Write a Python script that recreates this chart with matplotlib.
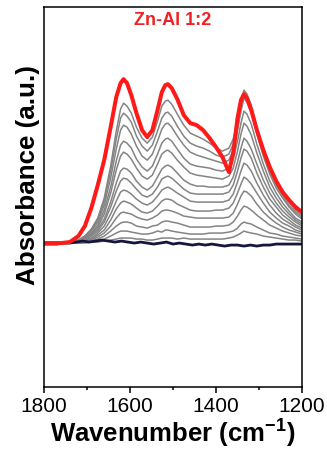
"""
In-situ IR spectra of the Zn-Al 1:2 sample, 1800-1200 cm-1 region.
"""

import numpy as np
import matplotlib
matplotlib.use("Agg")
import matplotlib.pyplot as plt

plt.rcParams["font.family"] = ["Liberation Sans", "DejaVu Sans"]
plt.rcParams["mathtext.fontset"] = "custom"
plt.rcParams["mathtext.rm"] = "Liberation Sans"
plt.rcParams["mathtext.bf"] = "Liberation Sans:bold"

# common wavenumber grid (cm-1)
wavenumber = [1800, 1760, 1740, 1720, 1705, 1690, 1675, 1660, 1645, 1632,
              1622, 1615, 1607, 1597, 1585, 1572, 1560, 1548, 1536, 1526,
              1518, 1512, 1503, 1490, 1475, 1460, 1445, 1430, 1415, 1400,
              1385, 1370, 1360, 1350, 1342, 1335, 1328, 1318, 1305, 1290,
              1275, 1260, 1245, 1230, 1215, 1200]

# final spectrum (red)
final_spectrum = [0.00, 0.00, 0.01, 0.07, 0.17, 0.35, 0.58, 0.83, 1.16, 1.46,
                  1.60, 1.64, 1.60, 1.48, 1.30, 1.13, 1.06, 1.13, 1.33, 1.51,
                  1.58, 1.59, 1.55, 1.44, 1.28, 1.20, 1.18, 1.13, 1.05, 0.96,
                  0.86, 0.71, 0.90, 1.25, 1.43, 1.49, 1.45, 1.33, 1.13, 0.93,
                  0.76, 0.62, 0.51, 0.43, 0.36, 0.31]

# intermediate spectra (grey), highest first
grey_spectra = [
    [0, 0, 0.01, 0.03, 0.07, 0.14, 0.25, 0.45, 0.77, 1.12, 1.34, 1.40, 1.37, 1.30, 1.16, 1.05,
     1.00, 1.06, 1.22, 1.37, 1.42, 1.43, 1.39, 1.29, 1.18, 1.10, 1.07, 1.04, 1.00, 0.95,
     0.92, 0.95, 1.04, 1.23, 1.41, 1.53, 1.49, 1.38, 1.16, 0.93, 0.74, 0.61, 0.49, 0.41, 0.33, 0.28],
    [0, 0, 0.01, 0.03, 0.07, 0.13, 0.23, 0.42, 0.72, 1.04, 1.25, 1.30, 1.27, 1.21, 1.07, 0.97,
     0.92, 0.98, 1.12, 1.25, 1.30, 1.31, 1.27, 1.17, 1.07, 1.00, 0.97, 0.95, 0.92, 0.88,
     0.86, 0.89, 0.99, 1.18, 1.37, 1.50, 1.46, 1.35, 1.13, 0.90, 0.72, 0.58, 0.47, 0.38, 0.31, 0.26],
    [0, 0, 0.01, 0.02, 0.06, 0.12, 0.21, 0.38, 0.65, 0.94, 1.13, 1.18, 1.16, 1.09, 0.97, 0.87,
     0.83, 0.89, 1.02, 1.14, 1.19, 1.20, 1.16, 1.07, 0.98, 0.91, 0.88, 0.86, 0.84, 0.82,
     0.80, 0.83, 0.93, 1.13, 1.32, 1.45, 1.41, 1.30, 1.09, 0.87, 0.69, 0.55, 0.45, 0.36, 0.29, 0.24],
    [0, 0, 0.01, 0.02, 0.05, 0.10, 0.18, 0.33, 0.56, 0.82, 0.98, 1.02, 1.00, 0.95, 0.84, 0.76,
     0.72, 0.77, 0.89, 1.00, 1.04, 1.05, 1.02, 0.94, 0.85, 0.79, 0.77, 0.76, 0.75, 0.73,
     0.72, 0.75, 0.84, 1.02, 1.20, 1.32, 1.29, 1.19, 0.99, 0.79, 0.62, 0.50, 0.40, 0.32, 0.25, 0.21],
    [0, 0, 0.00, 0.02, 0.05, 0.09, 0.16, 0.29, 0.50, 0.73, 0.87, 0.91, 0.89, 0.84, 0.75, 0.67,
     0.64, 0.68, 0.79, 0.89, 0.92, 0.93, 0.90, 0.83, 0.76, 0.70, 0.68, 0.67, 0.66, 0.65,
     0.64, 0.67, 0.75, 0.92, 1.09, 1.20, 1.17, 1.08, 0.90, 0.72, 0.56, 0.45, 0.36, 0.29, 0.23, 0.19],
    [0, 0, 0.00, 0.02, 0.04, 0.08, 0.14, 0.24, 0.41, 0.60, 0.72, 0.75, 0.74, 0.70, 0.62, 0.56,
     0.53, 0.57, 0.66, 0.74, 0.77, 0.78, 0.76, 0.70, 0.63, 0.59, 0.57, 0.57, 0.56, 0.56,
     0.56, 0.58, 0.66, 0.81, 0.95, 1.05, 1.02, 0.94, 0.79, 0.63, 0.50, 0.40, 0.32, 0.26, 0.21, 0.17],
    [0, 0, 0.00, 0.01, 0.03, 0.07, 0.12, 0.21, 0.36, 0.52, 0.62, 0.65, 0.64, 0.60, 0.54, 0.48,
     0.46, 0.49, 0.56, 0.64, 0.66, 0.67, 0.65, 0.60, 0.54, 0.50, 0.49, 0.49, 0.49, 0.49,
     0.49, 0.51, 0.58, 0.72, 0.85, 0.94, 0.92, 0.85, 0.70, 0.56, 0.44, 0.36, 0.28, 0.23, 0.18, 0.15],
    [0, 0, 0.00, 0.01, 0.03, 0.05, 0.10, 0.17, 0.29, 0.42, 0.51, 0.53, 0.52, 0.49, 0.44, 0.40,
     0.38, 0.41, 0.47, 0.53, 0.55, 0.56, 0.54, 0.50, 0.46, 0.42, 0.41, 0.41, 0.41, 0.41,
     0.41, 0.43, 0.49, 0.61, 0.72, 0.80, 0.78, 0.72, 0.60, 0.48, 0.38, 0.30, 0.24, 0.20, 0.16, 0.13],
    [0, 0, 0.00, 0.01, 0.02, 0.04, 0.08, 0.13, 0.23, 0.34, 0.40, 0.42, 0.41, 0.39, 0.35, 0.31,
     0.30, 0.32, 0.37, 0.42, 0.44, 0.44, 0.43, 0.39, 0.36, 0.33, 0.32, 0.32, 0.32, 0.33,
     0.33, 0.35, 0.40, 0.50, 0.59, 0.66, 0.64, 0.59, 0.50, 0.40, 0.31, 0.25, 0.20, 0.17, 0.13, 0.11],
    [0, 0, 0.00, 0.01, 0.02, 0.03, 0.06, 0.10, 0.17, 0.25, 0.30, 0.31, 0.30, 0.29, 0.26, 0.24,
     0.23, 0.25, 0.28, 0.32, 0.33, 0.33, 0.32, 0.30, 0.27, 0.26, 0.25, 0.25, 0.25, 0.25,
     0.25, 0.26, 0.30, 0.39, 0.47, 0.52, 0.51, 0.47, 0.39, 0.31, 0.25, 0.20, 0.16, 0.13, 0.11, 0.09],
    [0, 0, 0.00, 0.00, 0.01, 0.02, 0.04, 0.07, 0.12, 0.17, 0.20, 0.21, 0.21, 0.20, 0.17, 0.16,
     0.15, 0.17, 0.18, 0.21, 0.22, 0.22, 0.21, 0.20, 0.18, 0.16, 0.16, 0.16, 0.16, 0.17,
     0.17, 0.18, 0.21, 0.27, 0.33, 0.37, 0.36, 0.33, 0.28, 0.23, 0.18, 0.15, 0.12, 0.10, 0.08, 0.07],
    [0, 0, 0.00, 0.00, 0.01, 0.01, 0.02, 0.04, 0.07, 0.10, 0.12, 0.12, 0.12, 0.11, 0.10, 0.09,
     0.09, 0.10, 0.12, 0.11, 0.13, 0.13, 0.12, 0.11, 0.10, 0.09, 0.09, 0.09, 0.10, 0.10,
     0.10, 0.11, 0.12, 0.15, 0.19, 0.21, 0.20, 0.19, 0.16, 0.13, 0.10, 0.09, 0.07, 0.06, 0.05, 0.04],
    [0, 0, 0.00, 0.00, 0.00, 0.01, 0.01, 0.02, 0.03, 0.04, 0.05, 0.05, 0.05, 0.05, 0.04, 0.04,
     0.03, 0.03, 0.04, 0.05, 0.05, 0.05, 0.05, 0.04, 0.05, 0.04, 0.04, 0.04, 0.04, 0.04,
     0.04, 0.05, 0.06, 0.08, 0.10, 0.12, 0.11, 0.10, 0.09, 0.07, 0.06, 0.05, 0.04, 0.03, 0.03, 0.02],
]

# reference spectrum (navy), 15 cm-1 steps
reference_wn = np.arange(1800, 1199, -15)
reference_spectrum = [-0.01, -0.01, -0.01, 0.00, 0.00, 0.01, 0.02, 0.01, 0.02, 0.03,
                      0.02, 0.01, 0.02, 0.01, 0.00, 0.01, 0.00, -0.01, 0.00, 0.01,
                      -0.01, 0.00, -0.01, -0.02, -0.01, -0.02, -0.01, -0.02, -0.03, -0.02,
                      -0.02, -0.03, -0.02, -0.03, -0.02, -0.02, -0.01, -0.01, -0.01, -0.01,
                      -0.01]

fig = plt.figure(figsize=(3.27, 4.49), dpi=100)
ax = fig.add_axes([0.1346, 0.137, 0.789, 0.847])

for spec in grey_spectra:
    ax.plot(wavenumber, spec, color="#848484", lw=1.1, solid_joinstyle="round")
ax.plot(reference_wn, reference_spectrum, color="#15153d", lw=2.0)
ax.plot(wavenumber, final_spectrum, color="#ff1a1a", lw=2.9, solid_joinstyle="round")

ax.set_xlim(1800, 1200)
ax.set_ylim(-1.445, 2.36)
ax.set_xticks([1800, 1600, 1400, 1200])
ax.set_xticks([1700, 1500, 1300], minor=True)
ax.set_yticks([])
ax.tick_params(axis="x", which="major", direction="out", length=4, width=1.1,
               labelsize=15, pad=3)
ax.tick_params(axis="x", which="minor", direction="out", length=2.5, width=1.1)
for sp in ax.spines.values():
    sp.set_linewidth(1.1)

ax.set_xlabel("Wavenumber (cm$^{\\mathbf{-1}}$)", fontsize=18.5, fontweight="bold", labelpad=0)
ax.set_ylabel("Absorbance (a.u.)", fontsize=18.7, fontweight="bold")
ax.yaxis.set_label_coords(-0.016, 0.558)
ax.text(0.5, 0.965, "Zn-Al 1:2", transform=ax.transAxes, ha="center", va="center",
        color="#ee2222", fontsize=13, fontweight="bold")

plt.savefig("out.png", dpi=100)
